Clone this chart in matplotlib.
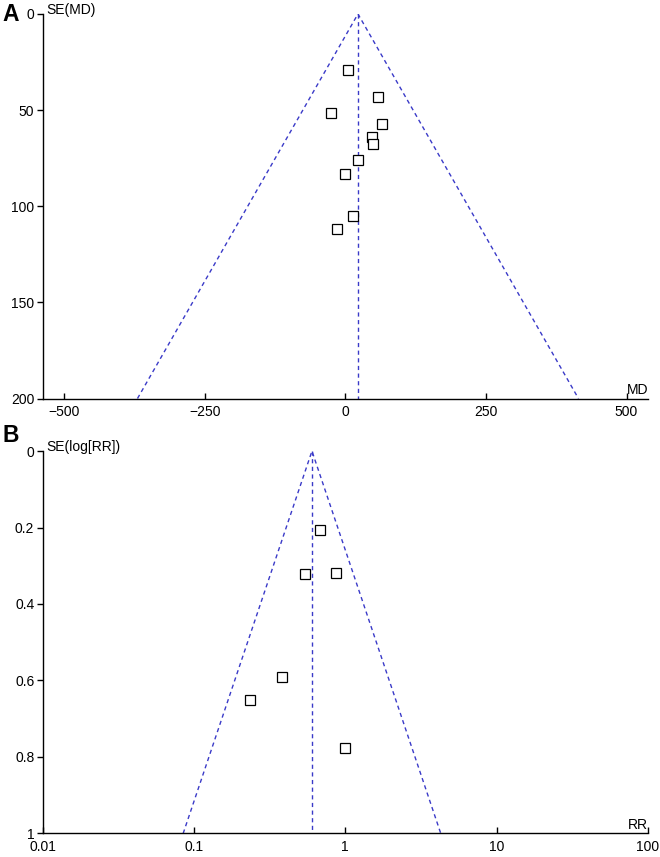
import numpy as np
import matplotlib
matplotlib.use("Agg")
import matplotlib.pyplot as plt
from matplotlib.ticker import FixedLocator, NullLocator

plt.rcParams['font.family'] = ['Liberation Sans', 'DejaVu Sans']

# Panel A: mean difference vs SE(MD)
md_values = [4.5, 59, -25.5, 66, 47, 48.7, 21.7, 0.0, 14.2, -15]
md_se = [29.3, 43.0, 51.5, 57.2, 64.2, 67.6, 76.1, 83.3, 105.1, 111.9]
md_pooled = 22.5
md_xticks = [-500, -250, 0, 250, 500]
md_yticks = [0, 50, 100, 150, 200]

# Panel B: risk ratio vs SE(log[RR])
rr_values = [0.685, 0.540, 0.863, 0.379, 0.234, 1.0]
rr_se = [0.206, 0.321, 0.318, 0.590, 0.650, 0.776]
rr_pooled = 0.602
rr_xticks = [0.01, 0.1, 1, 10, 100]
rr_xticklabels = ['0.01', '0.1', '1', '10', '100']
rr_yticks = [0, 0.2, 0.4, 0.6, 0.8, 1]
rr_yticklabels = ['0', '0.2', '0.4', '0.6', '0.8', '1']

LINE_COLOR = '#3a3ac8'
FS = 10


def style_axes(ax):
    for side in ['top', 'right']:
        ax.spines[side].set_visible(False)
    for side in ['left', 'bottom']:
        ax.spines[side].set_linewidth(1.0)
    ax.tick_params(axis='x', direction='in', length=4, width=1, labelsize=FS, pad=5)
    ax.tick_params(axis='y', direction='out', length=4, width=1, labelsize=FS, pad=2)
    ax.xaxis.set_minor_locator(NullLocator())
    ax.yaxis.set_minor_locator(NullLocator())


fig = plt.figure(figsize=(6.6, 8.57), dpi=100)

# ---- Panel A ----
axA = fig.add_axes([0.0647, 0.535, 0.917, 0.4487])
se_max = 200
axA.plot([md_pooled - 1.96 * se_max, md_pooled, md_pooled + 1.96 * se_max], [se_max, 0, se_max],
         ls=(0, (3, 2.5)), color=LINE_COLOR, lw=1.0)
axA.plot([md_pooled, md_pooled], [0, se_max], ls=(0, (3, 2.5)), color=LINE_COLOR, lw=1.0)
axA.plot(md_values, md_se, 's', ms=6.5, mfc='white', mec='black', mew=0.9)
axA.set_xlim(-538, 538)
axA.set_ylim(200, 0)
axA.xaxis.set_major_locator(FixedLocator(md_xticks))
axA.yaxis.set_major_locator(FixedLocator(md_yticks))
style_axes(axA)
axA.text(0.006, 0.993, 'SE(MD)', transform=axA.transAxes, fontsize=FS, ha='left', va='bottom')
axA.text(1.0, 0.005, 'MD', transform=axA.transAxes, fontsize=FS, ha='right', va='bottom')
fig.text(0.004, 0.983, 'A', fontsize=16.5, fontweight='bold', ha='left', va='center')

# ---- Panel B ----
axB = fig.add_axes([0.0647, 0.0275, 0.917, 0.4462])
se_max_b = 1.0
lo = np.exp(np.log(rr_pooled) - 1.96 * se_max_b)
hi = np.exp(np.log(rr_pooled) + 1.96 * se_max_b)
axB.plot([lo, rr_pooled, hi], [se_max_b, 0, se_max_b], ls=(0, (3, 2.5)), color=LINE_COLOR, lw=1.0)
axB.plot([rr_pooled, rr_pooled], [0, se_max_b], ls=(0, (3, 2.5)), color=LINE_COLOR, lw=1.0)
axB.plot(rr_values, rr_se, 's', ms=6.5, mfc='white', mec='black', mew=0.9)
axB.set_xscale('log')
axB.set_xlim(0.01, 100)
axB.set_ylim(1, 0)
axB.xaxis.set_major_locator(FixedLocator(rr_xticks))
axB.set_xticklabels(rr_xticklabels)
axB.yaxis.set_major_locator(FixedLocator(rr_yticks))
axB.set_yticklabels(rr_yticklabels)
style_axes(axB)
axB.text(0.006, 0.993, 'SE(log[RR])', transform=axB.transAxes, fontsize=FS, ha='left', va='bottom')
axB.text(1.0, 0.005, 'RR', transform=axB.transAxes, fontsize=FS, ha='right', va='bottom')
fig.text(0.004, 0.4924, 'B', fontsize=16.5, fontweight='bold', ha='left', va='center')

fig.savefig('out.png', dpi=100)
